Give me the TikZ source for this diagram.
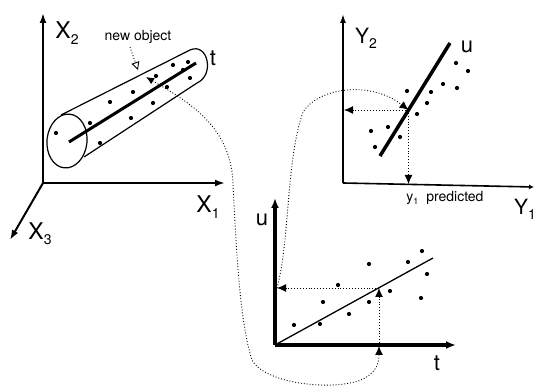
\documentclass[tikz,border=0pt]{standalone}
\usepackage{fontspec}
\setmainfont{TeX Gyre Heros}
\usetikzlibrary{arrows.meta}
\newcommand{\axlbl}[2]{#1\raisebox{-0.45ex}{\fontsize{14}{14}\selectfont #2}}
\newcommand{\smlbl}[2]{#1\raisebox{-0.45ex}{\fontsize{9}{9}\selectfont #2}}

\begin{document}
\begin{tikzpicture}[x=1pt, y=-1pt,
        axisline/.style={line width=2pt, -{Latex[length=10pt,width=7pt]}},
        thinaxis/.style={line width=1.6pt, -{Latex[length=9pt,width=6pt]}},
        boldaxis/.style={line width=3.5pt, -{Latex[length=10pt,width=8pt]}},
        guide/.style={dotted, line width=0.9pt},
        guidetip/.style={-{Latex[length=9pt,width=8pt]}},
        lbl/.style={inner sep=0pt, font=\fontsize{22}{22}\selectfont},
        smalllbl/.style={inner sep=0pt, font=\fontsize{14}{14}\selectfont}
    ]
        \useasboundingbox (0,0) rectangle (536,387);

        % X space
        \coordinate (xo) at (43,183);
        \coordinate (x1end) at (225,183);
        \coordinate (x2end) at (43,13);
        \coordinate (x3end) at (10,240);
        \draw[axisline] (xo) -- (x1end);
        \draw[axisline] (xo) -- (x2end);
        \draw[axisline] (xo) -- (x3end);
        \node[lbl, font=\fontsize{23}{23}\selectfont] (lx1) at (208,207) {\axlbl{X}{1}};
        \node[lbl, font=\fontsize{23}{23}\selectfont] (lx2) at (67,33) {\axlbl{X}{2}};
        \node[lbl, font=\fontsize{23}{23}\selectfont] (lx3) at (40,234) {\axlbl{X}{3}};

        % Cylinder
        \draw[line width=1.2pt, rotate around={-6:(67,141)}] (67,141) ellipse [x radius=20, y radius=27];
        \draw[line width=1.2pt] (61,115) -- (190,50) .. controls (208,42) and (215,75) .. (197,83) -- (84,157);
        \coordinate (ta) at (69,142);
        \coordinate (tb) at (196,63);
        \draw[line width=3pt] (ta) -- (tb);
        \node[lbl] (lt) at (213,58) {t};
        \foreach \p in {(56,133),(90,123),(100,143),(110,102),(131,118),(133,92),(153,103),
                        (156,76),(167,87),(173,65),(188,62),(190,78),(183,70)}
            \fill \p circle (2.1);

        % New object
        \node[smalllbl] (newlbl) at (138,37) {new object};
        \coordinate (newobj) at (138,70);
        \draw[guide, -{Triangle[open,length=8pt,width=8pt]}] (130,47) -- (newobj);
        \coordinate (proj) at (146,77);

        % Y space
        \coordinate (yo) at (343,183);
        \coordinate (y1end) at (534,187);
        \coordinate (y2end) at (343,14);
        \draw[thinaxis] (yo) -- (y2end);
        \draw[line width=1.6pt, -{Latex[length=5pt,width=5pt]}] (yo) -- (y1end);
        \node[lbl, font=\fontsize{21}{21}\selectfont] (ly2) at (366,38) {\axlbl{Y}{2}};
        \node[lbl, font=\fontsize{21}{21}\selectfont] (ly1) at (525,209) {\axlbl{Y}{1}};
        \node[smalllbl] (lpred) at (445,198) {\smlbl{y}{1}\ \ predicted};
        \coordinate (ua) at (380,156);
        \coordinate (ub) at (450,43);
        \draw[line width=3.5pt] (ua) -- (ub);
        \node[lbl] (lu) at (467,47) {u};
        \foreach \p in {(456,63),(468,71),(443,84),(457,88),(431,92),(407,91),(427,103),
                        (417,114),(371,131),(388,127),(400,137),(375,147)}
            \fill \p circle (2.1);

        % Prediction in Y space
        \coordinate (yint) at (408.5,110);
        \coordinate (y2hit) at (344,110);
        \coordinate (y1hit) at (408.5,184);
        \draw[guide, guidetip] (yint) -- (y2hit);
        \draw[guide, guidetip] (yint) -- (y1hit);

        % t-u plot
        \coordinate (bo) at (275,345);
        \coordinate (tend) at (456,345);
        \coordinate (uend) at (275,198);
        \draw[boldaxis] (bo) -- (tend);
        \draw[boldaxis] (bo) -- (uend);
        \node[lbl] (lbu) at (262,220) {u};
        \node[lbl] (lbt) at (437,363) {t};
        \coordinate (reg) at (433,258);
        \draw[line width=1.3pt] (bo) -- (reg);
        \foreach \p in {(294,325),(320,324),(323,302),(338,285),(349,314),(369,264),(369,302),
                        (390,291),(408,262),(422,251),(427,274),(421,298)}
            \fill \p circle (2.1);

        % Links
        \coordinate (tmark) at (379,346);
        \coordinate (bint) at (379,288);
        \coordinate (uhit) at (277,288);
        \draw[guide, {Latex[length=8pt,width=7pt]}-{Latex[length=9pt,width=8pt]}] (proj)
            .. controls (185,100) and (232,125) .. (233,185)
            .. controls (236,240) and (239,320) .. (252,360)
            .. controls (265,385) and (340,392) .. (365,378)
            .. controls (377,371) and (379,362) .. (tmark);
        \draw[guide, guidetip] (tmark) -- (bint);
        \draw[guide, guidetip] (bint) -- (uhit);
        \draw[guide, guidetip] (uhit)
            .. controls (290,240) and (286,160) .. (303,112)
            .. controls (318,88) and (370,80) .. (yint);
    \end{tikzpicture}
\end{document}
